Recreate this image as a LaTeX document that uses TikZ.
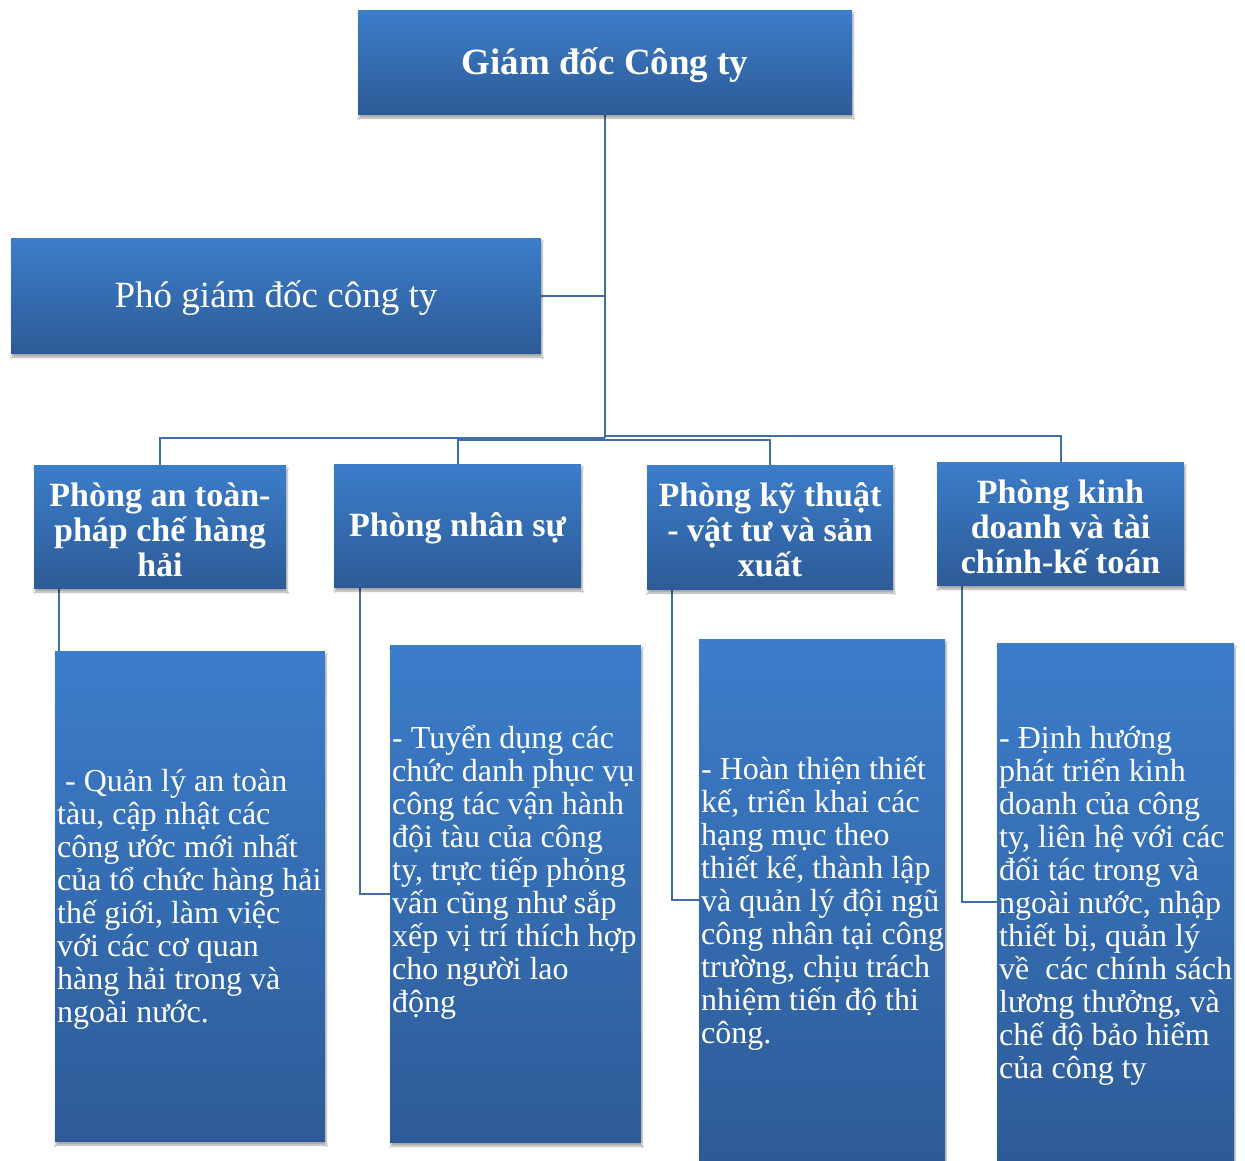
\documentclass[tikz,border=0pt]{standalone}
\usepackage{fontspec}
\setmainfont{Liberation Serif}
\usetikzlibrary{shadows.blur}
\definecolor{boxtop}{RGB}{60,125,202}
\definecolor{boxbot}{RGB}{45,91,151}
\definecolor{conncol}{RGB}{66,110,166}
\tikzset{
  orgbox/.style={rectangle, inner sep=0pt, top color=boxtop, bottom color=boxbot,
    draw=none, blur shadow={shadow xshift=1pt, shadow yshift=-4pt, shadow blur steps=6, shadow opacity=35}},
  boxtext/.style={text=white, align=center, inner sep=0pt, yshift=-3pt},
  titlefont/.style={font=\bfseries\fontsize{37}{40}\selectfont},
  vicefont/.style={font=\fontsize{37}{40}\selectfont},
  deptfont/.style={font=\bfseries\fontsize{34}{35}\selectfont},
  desc/.style={text=white, align=left, inner sep=0pt, anchor=west, font=\fontsize{32}{33}\selectfont},
  conn/.style={draw=conncol, line width=2pt},
}
\begin{document}
\begin{tikzpicture}[x=1pt,y=-1pt]
\useasboundingbox (0,0) rectangle (1245,1160);
\fill[white] (0,0) rectangle (1245,1160);

\coordinate (bus1) at (605,438);
\coordinate (bus2) at (605,440);
\coordinate (bus3) at (605,440);
\coordinate (bus4) at (605,436);

% geometry of the boxes (for connectors, drawn before the boxes)
\path (605,62) node[minimum width=494, minimum height=104, inner sep=0pt] (top) {};
\path (276,295.5) node[minimum width=530, minimum height=115, inner sep=0pt] (vp) {};
\path (160,526.5) node[minimum width=252, minimum height=123, inner sep=0pt] (ca) {};
\path (457.5,525.5) node[minimum width=247, minimum height=123, inner sep=0pt] (cb) {};
\path (770,527) node[minimum width=246, minimum height=124, inner sep=0pt] (cc) {};
\path (1060.5,523.5) node[minimum width=247, minimum height=123, inner sep=0pt] (cd) {};
\path (190,896) node[minimum width=270, minimum height=490, inner sep=0pt] (da) {};
\path (515.5,893.5) node[minimum width=251, minimum height=497, inner sep=0pt] (db) {};
\path (822,899.5) node[minimum width=246, minimum height=521, inner sep=0pt] (dc) {};
\path (1115.5,901.5) node[minimum width=237, minimum height=517, inner sep=0pt] (dd) {};

% connectors
\draw[conn] (top.south) -- (bus1);
\draw[conn] (vp.east) -- (vp.east -| top.south);
\draw[conn] (bus1) -| (ca.north);
\draw[conn] (bus2) -| (cb.north);
\draw[conn] (bus3) -| (cc.north);
\draw[conn] (bus4) -| (cd.north);
\draw[conn] ([xshift=25pt]ca.south west) |- (da.west);
\draw[conn] ([xshift=26pt]cb.south west) |- (db.west);
\draw[conn] ([xshift=25pt]cc.south west) |- (dc.west);
\draw[conn] ([xshift=25pt]cd.south west) |- (dd.west);

% visible boxes
\node[orgbox, minimum width=494, minimum height=104] (topbox) at (top) {};
\node[orgbox, minimum width=530, minimum height=115] (vpbox) at (vp) {};
\node[orgbox, minimum width=252, minimum height=123] (cabox) at (ca) {};
\node[orgbox, minimum width=247, minimum height=123] (cbbox) at (cb) {};
\node[orgbox, minimum width=246, minimum height=124] (ccbox) at (cc) {};
\node[orgbox, minimum width=247, minimum height=123] (cdbox) at (cd) {};
\node[orgbox, minimum width=270, minimum height=490] (dabox) at (da) {};
\node[orgbox, minimum width=251, minimum height=497] (dbbox) at (db) {};
\node[orgbox, minimum width=246, minimum height=521] (dcbox) at (dc) {};
\node[orgbox, minimum width=237, minimum height=517] (ddbox) at (dd) {};

% box titles
\node[boxtext, titlefont] (toptext) at (topbox) {Giám đốc Công ty};
\node[boxtext, vicefont] (vptext) at (vpbox) {Phó giám đốc công ty};
\node[boxtext, deptfont] (catext) at (cabox) {Phòng an toàn-\\pháp chế hàng\\hải};
\node[boxtext, deptfont] (cbtext) at (cbbox) {Phòng nhân sự};
\node[boxtext, deptfont] (cctext) at (ccbox) {Phòng kỹ thuật\\- vật tư và sản\\xuất};
\node[boxtext, deptfont] (cdtext) at (cdbox) {Phòng kinh\\doanh và tài\\chính-kế toán};

% description texts
\node[desc] (ta) at (57,899) {\ - Quản lý an toàn\\tàu, cập nhật các\\công ước mới nhất\\của tổ chức hàng hải\\thế giới, làm việc\\với các cơ quan\\hàng hải trong và\\ngoài nước.};
\node[desc] (tb) at (392,872.5) {- Tuyển dụng các\\chức danh phục vụ\\công tác vận hành\\đội tàu của công\\ty, trực tiếp phỏng\\vấn cũng như sắp\\xếp vị trí thích hợp\\cho người lao\\động};
\node[desc] (tc) at (701,903.5) {- Hoàn thiện thiết\\kế, triển khai các\\hạng mục theo\\thiết kế, thành lập\\và quản lý đội ngũ\\công nhân tại công\\trường, chịu trách\\nhiệm tiến độ thi\\công.};
\node[desc] (td) at (999,905.5) {- Định hướng\\phát triển kinh\\doanh của công\\ty, liên hệ với các\\đối tác trong và\\ngoài nước, nhập\\thiết bị, quản lý\\về\ \ các chính sách\\lương thưởng, và\\chế độ bảo hiểm\\của công ty};
\end{tikzpicture}
\end{document}
